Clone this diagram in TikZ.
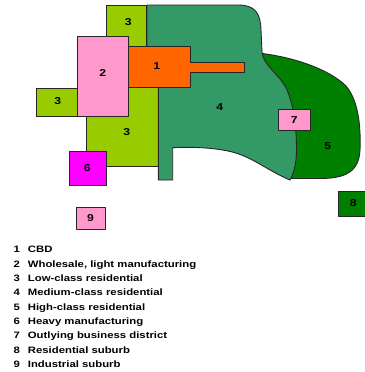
\documentclass[tikz,border=0pt]{standalone}
\usepackage{fontspec}
\setmainfont{Liberation Sans}
\newcommand\widetext[2][1.22]{\scalebox{#1}[1]{#2}}
\definecolor{lowres}{HTML}{99CC00}
\definecolor{medres}{HTML}{339966}
\definecolor{highres}{HTML}{008000}
\definecolor{cbd}{HTML}{FF6600}
\definecolor{wholesale}{HTML}{FF99CC}
\definecolor{heavy}{HTML}{FF00FF}
\begin{document}
\begin{tikzpicture}[x=1pt,y=-1pt,
  zone/.style={draw=black!85, line width=0.9pt, line join=round},
  zonelabel/.style={inner sep=0pt, font=\bfseries\fontsize{10}{12}\selectfont},
  keynum/.style={anchor=base west, inner sep=0pt, font=\bfseries\fontsize{9.3}{11}\selectfont},
  keytext/.style={anchor=base west, inner sep=0pt, font=\bfseries\fontsize{9.3}{11}\selectfont}]
\useasboundingbox (0,0) rectangle (364,372);

% zone 3: low-class residential (three blocks)
\path[zone, fill=lowres] (106.7,5) rectangle (146.7,50);
\path[zone, fill=lowres] (86.7,80) rectangle (158.3,166);
\path[zone, fill=lowres] (36.7,88.3) rectangle (80,116);

% zone 5: high-class residential
\path[zone, fill=highres] (258,53) .. controls (295,57) and (330,70) .. (346,86)
  .. controls (358,100) and (361,125) .. (360,150)
  .. controls (359,172) and (345,178.5) .. (320,178.5)
  -- (291,178.5) -- (286,170) -- (250,60) -- cycle;

% zone 4: medium-class residential
\path[zone, fill=medres] (147,5) -- (238,5)
  .. controls (255,5) and (260.5,13) .. (261,30) -- (262,52)
  .. controls (263,66) and (280,74) .. (287,90)
  .. controls (294,106) and (296.5,128) .. (296.5,150)
  .. controls (296.5,165) and (293,175) .. (290,180)
  .. controls (266,170) and (252,156) .. (228,151)
  .. controls (208,147) and (188,147) .. (172.7,147.7)
  -- (172.7,180) -- (158.3,180) -- (158.3,70) -- (147,70) -- cycle;

% zone 1: CBD with its arm
\path[zone, fill=cbd] (126,46) -- (190.7,46) -- (190.7,62.3) -- (244.3,62.3)
  -- (244.3,72.5) -- (190.7,72.5) -- (190.7,87.2) -- (126,87.2) -- cycle;

% zone 2: wholesale, light manufacturing
\path[zone, fill=wholesale] (77.7,36.7) rectangle (128,116);

% zones 6, 7, 8, 9
\path[zone, fill=heavy] (69.3,151.7) rectangle (106.7,185.5);
\path[zone, fill=wholesale] (278,109.3) rectangle (310.7,130.5);
\path[zone, fill=highres] (338,191) rectangle (366,216);
\path[zone, fill=wholesale] (76,207.3) rectangle (105,229);

% zone numbers
\node[zonelabel] (n3a) at (128.3,21.7) {\widetext{3}};
\node[zonelabel] (n2)  at (102.7,72.7) {\widetext{2}};
\node[zonelabel] (n1)  at (156.7,66.5) {\widetext{1}};
\node[zonelabel] (n3b) at (57.7,101)   {\widetext{3}};
\node[zonelabel] (n3c) at (126.7,132.3) {\widetext{3}};
\node[zonelabel] (n4)  at (219.7,106.7) {\widetext{4}};
\node[zonelabel] (n7)  at (294.3,119.6) {\widetext{7}};
\node[zonelabel] (n5)  at (327.7,146)   {\widetext{5}};
\node[zonelabel] (n6)  at (87.3,168.3)  {\widetext{6}};
\node[zonelabel] (n8)  at (353.3,202.8) {\widetext{8}};
\node[zonelabel] (n9)  at (90.5,218)    {\widetext{9}};

% key
\foreach \k/\txt [count=\i from 0] in {1/CBD, 2/{Wholesale, light manufacturing},
    3/Low-class residential, 4/Medium-class residential, 5/High-class residential,
    6/Heavy manufacturing, 7/Outlying business district, 8/Residential suburb,
    9/Industrial suburb} {
  \node[keynum]  (keynum\k)  at (13.3, 252.7+14.375*\i) {\widetext{\k}};
  \node[keytext] (keytext\k) at (27.7, 252.7+14.375*\i) {\widetext{\txt}};
}
\end{tikzpicture}
\end{document}
